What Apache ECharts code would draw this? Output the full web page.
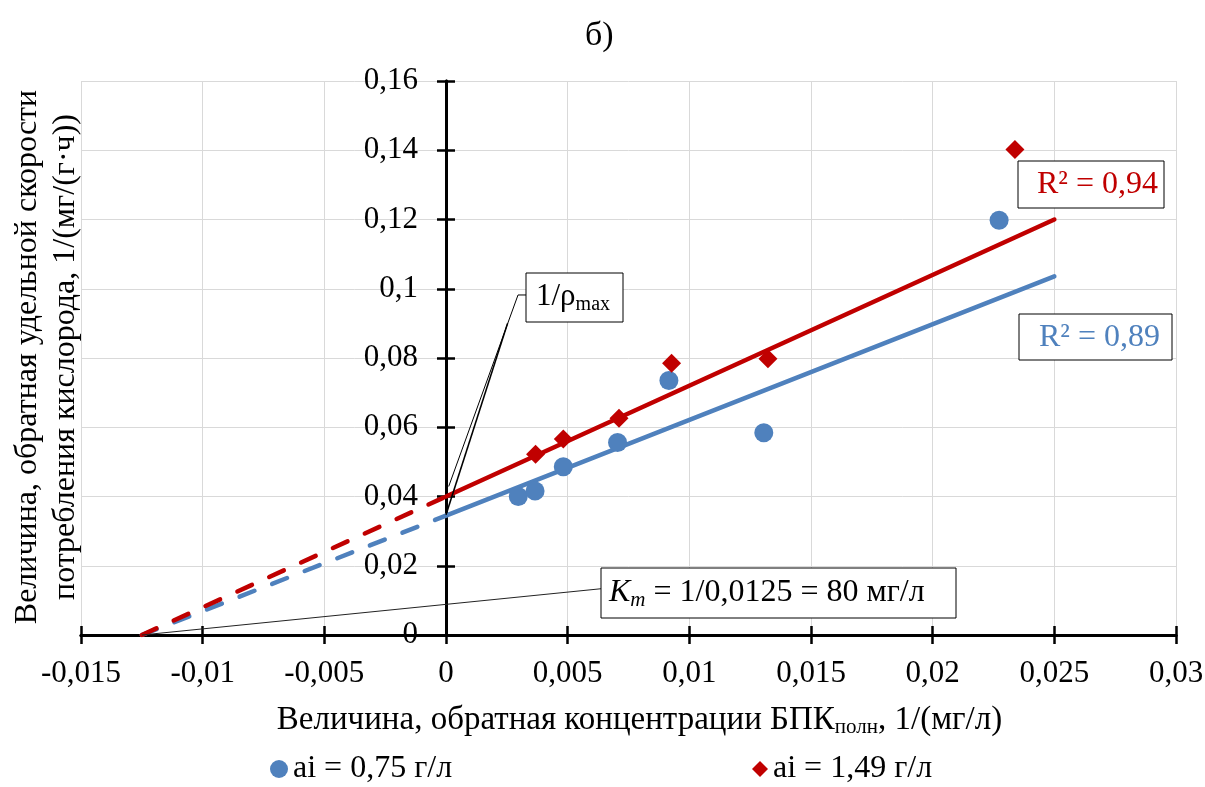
<!DOCTYPE html>
<html><head><meta charset="utf-8">
<script src="https://cdn.jsdelivr.net/npm/echarts@6/dist/echarts.min.js"></script>
<style>html,body{margin:0;padding:0;background:#fff}#c{width:1205px;height:787px}</style>
</head><body><div id="c"></div>
<script>
// ---- data ----
const blueX = [0.00297, 0.00366, 0.00482, 0.00705, 0.00916, 0.01306, 0.02273];
const blueY = [0.0400, 0.0416, 0.0486, 0.0556, 0.0735, 0.0584, 0.1198];
const redX = [0.00368, 0.00482, 0.00711, 0.00927, 0.01323, 0.02338];
const redY = [0.0522, 0.0566, 0.0626, 0.0785, 0.0798, 0.1402];
// linear trend lines (solid part) and their dashed extrapolation to the x-intercept
const blueTrendX = [0, 0.025];   const blueTrendY = [0.0345, 0.1036];
const blueExtX = [-0.0125, 0];   const blueExtY = [0, 0.0345];
const redTrendX = [0, 0.025];    const redTrendY = [0.040, 0.120];
const redExtX = [-0.0125, 0];    const redExtY = [0, 0.040];
const seriesNames = ['ai = 0,75 г/л', 'ai = 1,49 г/л'];
const r2Labels = ['R² = 0,89', 'R² = 0,94'];
const xRange = [-0.015, 0.03, 0.005];
const yRange = [0, 0.16, 0.02];
// annotation anchor points (data coordinates)
const rhoLead1 = [[0.00329, 0.0982], [0.00296, 0.0982], [0.00011, 0.0429]];
const rhoLead2 = [[0.00253, 0.0900], [0, 0.0347]];
const kmLead = [[-0.0125, 0], [0.00637, 0.01336]];

const F = '"Liberation Serif", "Times New Roman", serif';
const BLUE = '#4F81BD', RED = '#C00000';
const zip = (a, b) => a.map((v, i) => [v, b[i]]);
const fmt = v => parseFloat(Number(v).toFixed(4)).toString().replace('.', ',');

const chart = echarts.init(document.getElementById('c'), null, {renderer: 'canvas'});

const baseX = {type: 'value', min: xRange[0], max: xRange[1], interval: xRange[2]};
const baseY = {type: 'value', min: yRange[0], max: yRange[1], interval: yRange[2]};
const tick = {show: true, length: 9, lineStyle: {color: '#000', width: 2.5}};
const axLine = {show: true, onZero: false, lineStyle: {color: '#000', width: 3}};

chart.setOption({
  animation: false,
  backgroundColor: '#fff',
  title: {text: 'б)', left: 580, top: 14,
    textStyle: {fontFamily: F, fontSize: 34, fontWeight: 'normal', color: '#000'}},
  grid: {left: 81, top: 81, width: 1095, height: 554, containLabel: false, outerBoundsMode: 'none'},
  legend: [
    {data: [seriesNames[0]], left: 270, top: 753, icon: 'circle', itemWidth: 18, itemHeight: 18, padding: 0,
      textStyle: {fontFamily: F, fontSize: 32, color: '#000'}},
    {data: [seriesNames[1]], left: 752, top: 753, icon: 'diamond', itemWidth: 16, itemHeight: 16, padding: 0,
      textStyle: {fontFamily: F, fontSize: 32, color: '#000'}}
  ],
  xAxis: [
    Object.assign({}, baseX, {
      position: 'bottom', axisLine: axLine, axisTick: tick,
      axisLabel: {formatter: fmt, fontFamily: F, fontSize: 31, color: '#000', margin: 23,
        showMinLabel: true, showMaxLabel: true},
      splitLine: {show: true, lineStyle: {color: '#d9d9d9', width: 1}},
      name: 'Величина, обратная концентрации БПК{s|полн}, 1/(мг/л)',
      nameLocation: 'middle', nameGap: 67,
      nameTextStyle: {fontFamily: F, fontSize: 33, color: '#000', lineHeight: 36, padding: [0, 0, 0, 22],
        rich: {s: {fontFamily: F, fontSize: 21, color: '#000', lineHeight: 14, verticalAlign: 'bottom'}}}
    }),
    Object.assign({}, baseX, {
      position: 'top', axisLine: axLine, axisTick: tick,
      axisLabel: {show: false}, splitLine: {show: false}
    })
  ],
  yAxis: [
    Object.assign({}, baseY, {
      position: 'left', axisLine: axLine, axisTick: tick,
      axisLabel: {formatter: fmt, fontFamily: F, fontSize: 31, color: '#000', margin: 28,
        showMinLabel: true, showMaxLabel: true},
      splitLine: {show: true, lineStyle: {color: '#d9d9d9', width: 1}}
    }),
    Object.assign({}, baseY, {
      position: 'right', axisLine: axLine, axisTick: tick,
      axisLabel: {show: false}, splitLine: {show: false}
    })
  ],
  series: [
    {name: 'blueTrend', type: 'line', data: zip(blueTrendX, blueTrendY), showSymbol: false, z: 3,
      lineStyle: {color: BLUE, width: 4.5, cap: 'round'}, silent: true},
    {name: 'blueExt', type: 'line', data: zip(blueExtX, blueExtY), showSymbol: false, z: 3,
      lineStyle: {color: BLUE, width: 4.5, type: [16, 19], cap: 'round'}, silent: true},
    {name: 'redTrend', type: 'line', data: zip(redTrendX, redTrendY), showSymbol: false, z: 3,
      lineStyle: {color: RED, width: 4.5, cap: 'round'}, silent: true},
    {name: 'redExt', type: 'line', data: zip(redExtX, redExtY), showSymbol: false, z: 3,
      lineStyle: {color: RED, width: 4.5, type: [16, 19], cap: 'round'}, silent: true},
    {name: seriesNames[0], type: 'scatter', data: zip(blueX, blueY), symbol: 'circle', symbolSize: 19, z: 4,
      itemStyle: {color: BLUE, opacity: 1}},
    {name: seriesNames[1], type: 'scatter', data: zip(redX, redY), symbol: 'diamond', symbolSize: 19, z: 4,
      itemStyle: {color: RED, opacity: 1}}
  ]
});

const px = p => chart.convertToPixel({gridIndex: 0}, p);
// move the axes so they cross at the origin (x = 0, y = 0)
const origin = px([0, 0]);
const leftX = px([xRange[0], 0])[0], rightX = px([xRange[1], 0])[0];
const topY = px([0, yRange[1]])[1], botY = px([0, yRange[0]])[1];

const box = (x, y, w, h, textEl) => ({
  type: 'group', z: 100, children: [
    {type: 'rect', shape: {x: x, y: y, width: w, height: h}, style: {fill: '#fff', stroke: '#000', lineWidth: 1}, z: 100},
    Object.assign({type: 'text', z: 101}, textEl)
  ]});

chart.setOption({
  xAxis: [{offset: botY - origin[1]}, {offset: -(origin[1] - topY)}],
  yAxis: [{offset: -(origin[0] - leftX)}, {offset: -(rightX - origin[0])}],
  graphic: [
    // y axis title
    {type: 'text', x: 47, y: 357, rotation: Math.PI / 2, z: 100,
      style: {text: 'Величина, обратная удельной скорости\nпотребления кислорода, 1/(мг/(г·ч))',
        font: '32px ' + F, fill: '#000', align: 'center', verticalAlign: 'middle', lineHeight: 38}},
    // leader lines
    {type: 'polyline', z: 90, shape: {points: rhoLead1.map(px)}, style: {stroke: '#000', lineWidth: 1, fill: null}},
    {type: 'polyline', z: 90, shape: {points: rhoLead2.map(px)}, style: {stroke: '#000', lineWidth: 1.6, fill: null}},
    {type: 'polyline', z: 90, shape: {points: kmLead.map(px)}, style: {stroke: '#222', lineWidth: 1, fill: null}},
    // label boxes
    box(1018, 161, 146, 47, {x: 1037, y: 185, style: {text: r2Labels[1], font: '32px ' + F, fill: RED, verticalAlign: 'middle'}}),
    box(1019, 314, 153, 46, {x: 1039, y: 338, style: {text: r2Labels[0], font: '32px ' + F, fill: BLUE, verticalAlign: 'middle'}}),
    box(526, 273, 97, 49, {x: 536, y: 297, style: {
      text: '{a|1/ρ}{s|max}', verticalAlign: 'middle',
      rich: {a: {fontFamily: F, fontSize: 31, fill: '#000', lineHeight: 36},
             s: {fontFamily: F, fontSize: 20, fill: '#000', lineHeight: 14, verticalAlign: 'bottom'}}}}),
    box(601, 568, 355, 50, {x: 609, y: 593, style: {
      text: '{k|K}{s|m}{a| = 1/0,0125 = 80 мг/л}', verticalAlign: 'middle',
      rich: {k: {fontFamily: F, fontSize: 32, fontStyle: 'italic', fill: '#000', lineHeight: 36},
             a: {fontFamily: F, fontSize: 32, fill: '#000', lineHeight: 36},
             s: {fontFamily: F, fontSize: 21, fontStyle: 'italic', fill: '#000', lineHeight: 14, verticalAlign: 'bottom'}}}})
  ]
});
</script></body></html>
